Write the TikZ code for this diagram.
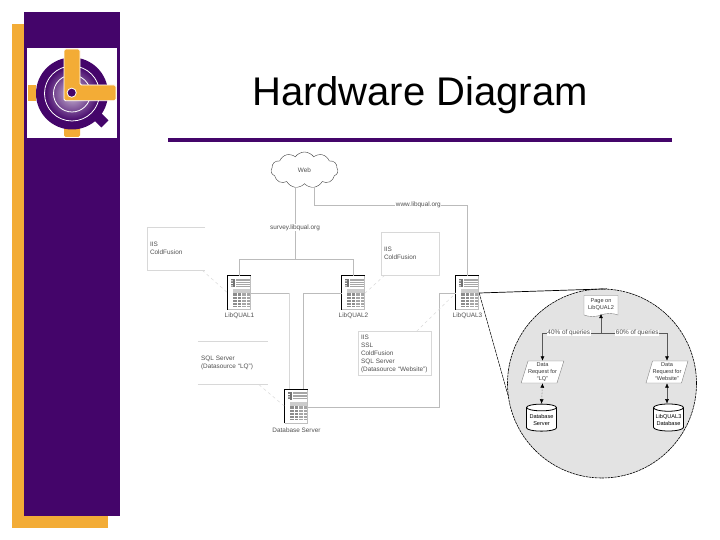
\documentclass[tikz,border=0pt]{standalone}
\usepackage{fontspec}
\setmainfont{Liberation Sans}
\usetikzlibrary{shapes.geometric,shapes.symbols,arrows.meta,calc}

\definecolor{slidepurple}{HTML}{44056A}
\definecolor{slideorange}{HTML}{F3AC36}
\definecolor{zoomgray}{HTML}{E3E3E3}
\definecolor{wiregray}{HTML}{BBBBBB}
\definecolor{edgegray}{HTML}{D8D8D8}
\definecolor{labelgray}{HTML}{505050}

\tikzset{
  smalltext/.style={font=\fontsize{6.4}{8}\selectfont, text=labelgray, inner sep=0.5pt},
  tinytext/.style={font=\fontsize{5.6}{7}\selectfont, text=labelgray!70!black, align=center, inner sep=0pt},
  wire/.style={draw=wiregray, line width=0.5pt},
  wirelabel/.style={smalltext, fill=white},
  calloutbox/.style={smalltext, inner xsep=3pt, inner ysep=3pt, align=left, minimum height=43pt},
  boxedge/.style={draw=edgegray, line width=0.5pt},
  pointer/.style={draw=edgegray, line width=0.5pt, dashed},
  flow/.style={draw=black!65, line width=0.5pt, -{Latex[length=4.5pt,width=4pt,color=black]}},
  flowboth/.style={flow, {Latex[length=4.5pt,width=4pt,color=black]}-{Latex[length=4.5pt,width=4pt,color=black]}},
  datanode/.style={trapezium, trapezium left angle=70, trapezium right angle=110, trapezium stretches=true,
    minimum width=39pt, minimum height=22pt, inner sep=0pt, fill=white, draw=black!50, line width=0.4pt},
  dbnode/.style={cylinder, shape border rotate=90, aspect=0.28, minimum width=30pt, minimum height=27pt,
    inner sep=0pt, fill=white, draw=black, line width=0.8pt},
  server/.style={rectangle, minimum width=23pt, minimum height=34pt, inner sep=0pt, fill=white},
  servericon/.pic={
    \fill[black!55] (3,3) rectangle (7,11);
    \fill[white] (3,4.5) rectangle (5,5.5) (3,7) rectangle (5,8) (3,9.5) rectangle (5,10.5);
    \fill[black!35] (8,3) rectangle (22,11);
    \draw[white, line width=0.5pt] (8,5) -- (22,5) (8,7.5) -- (22,7.5) (8,9.5) -- (22,9.5);
    \fill[black!20] (5,13) rectangle (22,17);
    \fill[black!45] (5,17) rectangle (13,31);
    \fill[black!35] (14,17) rectangle (22,31);
    \draw[white, line width=0.5pt] (5,20) -- (22,20) (5,23) -- (22,23) (5,26) -- (22,26) (5,29) -- (22,29)
      (9,17) -- (9,31) (18,17) -- (18,31);
    \draw[black!25, line width=0.7pt] (23,0) -- (23,34) -- (0,34);
    \draw[black, line width=1pt] (0,34) -- (0,0) -- (23,0);
  },
}

\begin{document}
\begin{tikzpicture}[x=1pt, y=-1pt]
  \useasboundingbox (0,0) rectangle (720,540);

  % Slide frame and title:
  \fill[slideorange] (12,24) rectangle (108,528);
  \fill[slidepurple] (24,12) rectangle (120,516);
  \fill[white] (27,48) rectangle (117,138);
  \node[font=\fontsize{40}{40}\selectfont, inner sep=0pt] (title) at (420,95.5) {Hardware Diagram};
  \coordinate (ruleL) at (168,140);
  \coordinate (ruleR) at (672,140);
  \draw[slidepurple, line width=4pt] (ruleL) -- (ruleR);

  % Logo:
  \fill[slideorange] (28,85) rectangle (36,100.7);
  \fill[slideorange, rounded corners=1.5pt] (64,125) rectangle (80,137);
  \fill[slidepurple, rotate around={-45:(100,119)}] (93,114) rectangle (107,124);
  \fill[slidepurple] (72,93.5) circle[radius=36];
  \shade[inner color=white!75!slidepurple, outer color=slidepurple] (72,93.5) circle[radius=27.5];
  \draw[white, line width=0.8pt] (72,93.5) circle[radius=27.5] (72,93.5) circle[radius=18.5];
  \draw[white, line width=0.8pt, fill=slideorange, rounded corners=1.5pt]
    (64,49) -- (80,49) -- (80,85) -- (116,85) -- (116,100.7) -- (64,100.7) -- cycle;
  \fill[white] (71.7,92.7) circle[radius=5];
  \fill[slidepurple] (71.7,92.7) circle[radius=4];

  % Zoomed detail circle:
  \node[circle, minimum size=189pt, inner sep=0pt, fill=zoomgray, draw=black, line width=0.6pt,
    dash pattern=on 2.5pt off 0.7pt] (detail) at (602,383.5) {};

  % Servers:
  \node[server] (lq1) at (239.5,293) {};
  \node[server] (lq2) at (353.5,293) {};
  \node[server] (lq3) at (467.5,293) {};
  \node[server] (dbs) at (296.5,406.5) {};
  \pic at (lq1.north west) {servericon};
  \pic at (lq2.north west) {servericon};
  \pic at (lq3.north west) {servericon};
  \pic at (dbs.north west) {servericon};
  \node[smalltext] (lq1text) at (239.5,316) {LibQUAL1};
  \node[smalltext] (lq2text) at (353.5,316) {LibQUAL2};
  \node[smalltext] (lq3text) at (467.5,315.5) {LibQUAL3};
  \node[smalltext] (dbstext) at (296.5,430) {Database Server};

  % Web cloud and wires:
  \node[cloud, cloud puffs=11, cloud puff arc=110, aspect=1.9, minimum width=67pt, minimum height=36pt,
    inner sep=0pt, draw=black!75, line width=0.4pt, fill=white, smalltext] (web) at (304.5,170) {Web};
  \coordinate (webL) at (295,187.5);
  \coordinate (webR) at (314,187.5);
  \coordinate (hub) at (295,259);
  \coordinate (busL) at (239.5,259);
  \coordinate (busR) at (353.5,259);
  \coordinate (lq3top) at (467.5,205);
  \coordinate (webRturn) at (314,205);
  \draw[wire] (webL) -- node[wirelabel, pos=0.56] (hosting) {survey.libqual.org} (hub);
  \draw[wire] (busL) -- (busR);
  \draw[wire] (busL) -- (lq1.north);
  \draw[wire] (busR) -- (lq2.north);
  \draw[wire] (webR) -- (webRturn) -- node[wirelabel, pos=0.68] (libqual) {www.libqual.org} (lq3top) -- (lq3.north);

  % Wires to the database server:
  \coordinate (dropA) at (289,293);
  \coordinate (dropB) at (303.5,293);
  \coordinate (dropC) at (439,293);
  \coordinate (dropD) at (439,407);
  \draw[wire] (lq1.east) -- (dropA);
  \draw[draw=edgegray, line width=0.5pt] (dropA) -- (dropA |- dbs.north);
  \draw[wire] (lq2.west) -- (dropB) -- (dropB |- dbs.north);
  \draw[wire] (lq3.west) -- (dropC) -- (dropD) -- (dbs.east |- dropD);

  % Callout boxes:
  \node[calloutbox, text width=52pt] (iisA) at (176,248.5) {IIS\\ColdFusion};
  \draw[boxedge] (iisA.north east) -- (iisA.north west) -- (iisA.south west) -- (iisA.south east);
  \node[calloutbox, boxedge, text width=52pt] (iisB) at (410,253.5) {IIS\\ColdFusion};
  \node[calloutbox, boxedge, text width=67pt] (iisC) at (394.5,353.5)
    {IIS\\SSL\\ColdFusion\\SQL Server\\(Datasource ``Website'')};
  \node[calloutbox, text width=64pt] (sqlbox) at (233,363) {SQL Server\\(Datasource ``LQ'')};
  \draw[boxedge] (sqlbox.north west) -- (sqlbox.north east);
  \draw[boxedge] (sqlbox.south west) -- (sqlbox.south east);
  \draw[pointer] ([xshift=-3pt]iisA.south east) -- (lq1.west);
  \draw[pointer] ([xshift=4pt]iisB.south west) -- (lq2.east);
  \draw[pointer] ([xshift=22pt]iisC.north) -- (lq3.west);
  \draw[pointer] ([xshift=26pt]sqlbox.south) -- (dbs.west);

  % Lines out to the detail circle:
  \draw[black, line width=0.7pt] (lq3.east) -- (detail.87);
  \draw[black, line width=0.5pt, dash pattern=on 3pt off 0.7pt] (lq3.east) -- (detail.187);

  % Inside the detail circle:
  \node[tape, tape bend top=none, tape bend height=3pt, minimum width=34pt, minimum height=21pt, inner sep=0pt,
    fill=white, draw=black!50, line width=0.4pt, tinytext] (page) at (601,304.5) {Page on\\LibQUAL2};
  \node[datanode, tinytext] (dataLQ) at (542.5,372) {Data\\Request for\\``LQ''};
  \node[datanode, tinytext] (dataWeb) at (667,372) {Data\\Request for\\``Website''};
  \node[dbnode, tinytext, text=black] (dbLQ) at (541.5,419.5) {Database\\Server};
  \node[dbnode, tinytext, text=black] (dbWeb) at (668.5,419.5) {LibQUAL3\\Database};
  \coordinate (split) at (601,333);
  \coordinate (splitL) at (542.5,333);
  \coordinate (splitR) at (667,333);
  \draw[flow] (split) -- (page.south);
  \draw[flow] (split) -- node[wirelabel, pos=0.55] (pctA) {40\% of queries} (splitL) -- (dataLQ.north -| splitL);
  \draw[flow] (split) -- node[wirelabel, pos=0.55] (pctB) {60\% of queries} (splitR) -- (dataWeb.north -| splitR);
  \draw[flowboth, densely dotted] (dataLQ.south) -- (dbLQ.north);
  \draw[flowboth] (dataWeb.south) -- (dbWeb.north -| dataWeb.south);
\end{tikzpicture}
\end{document}
